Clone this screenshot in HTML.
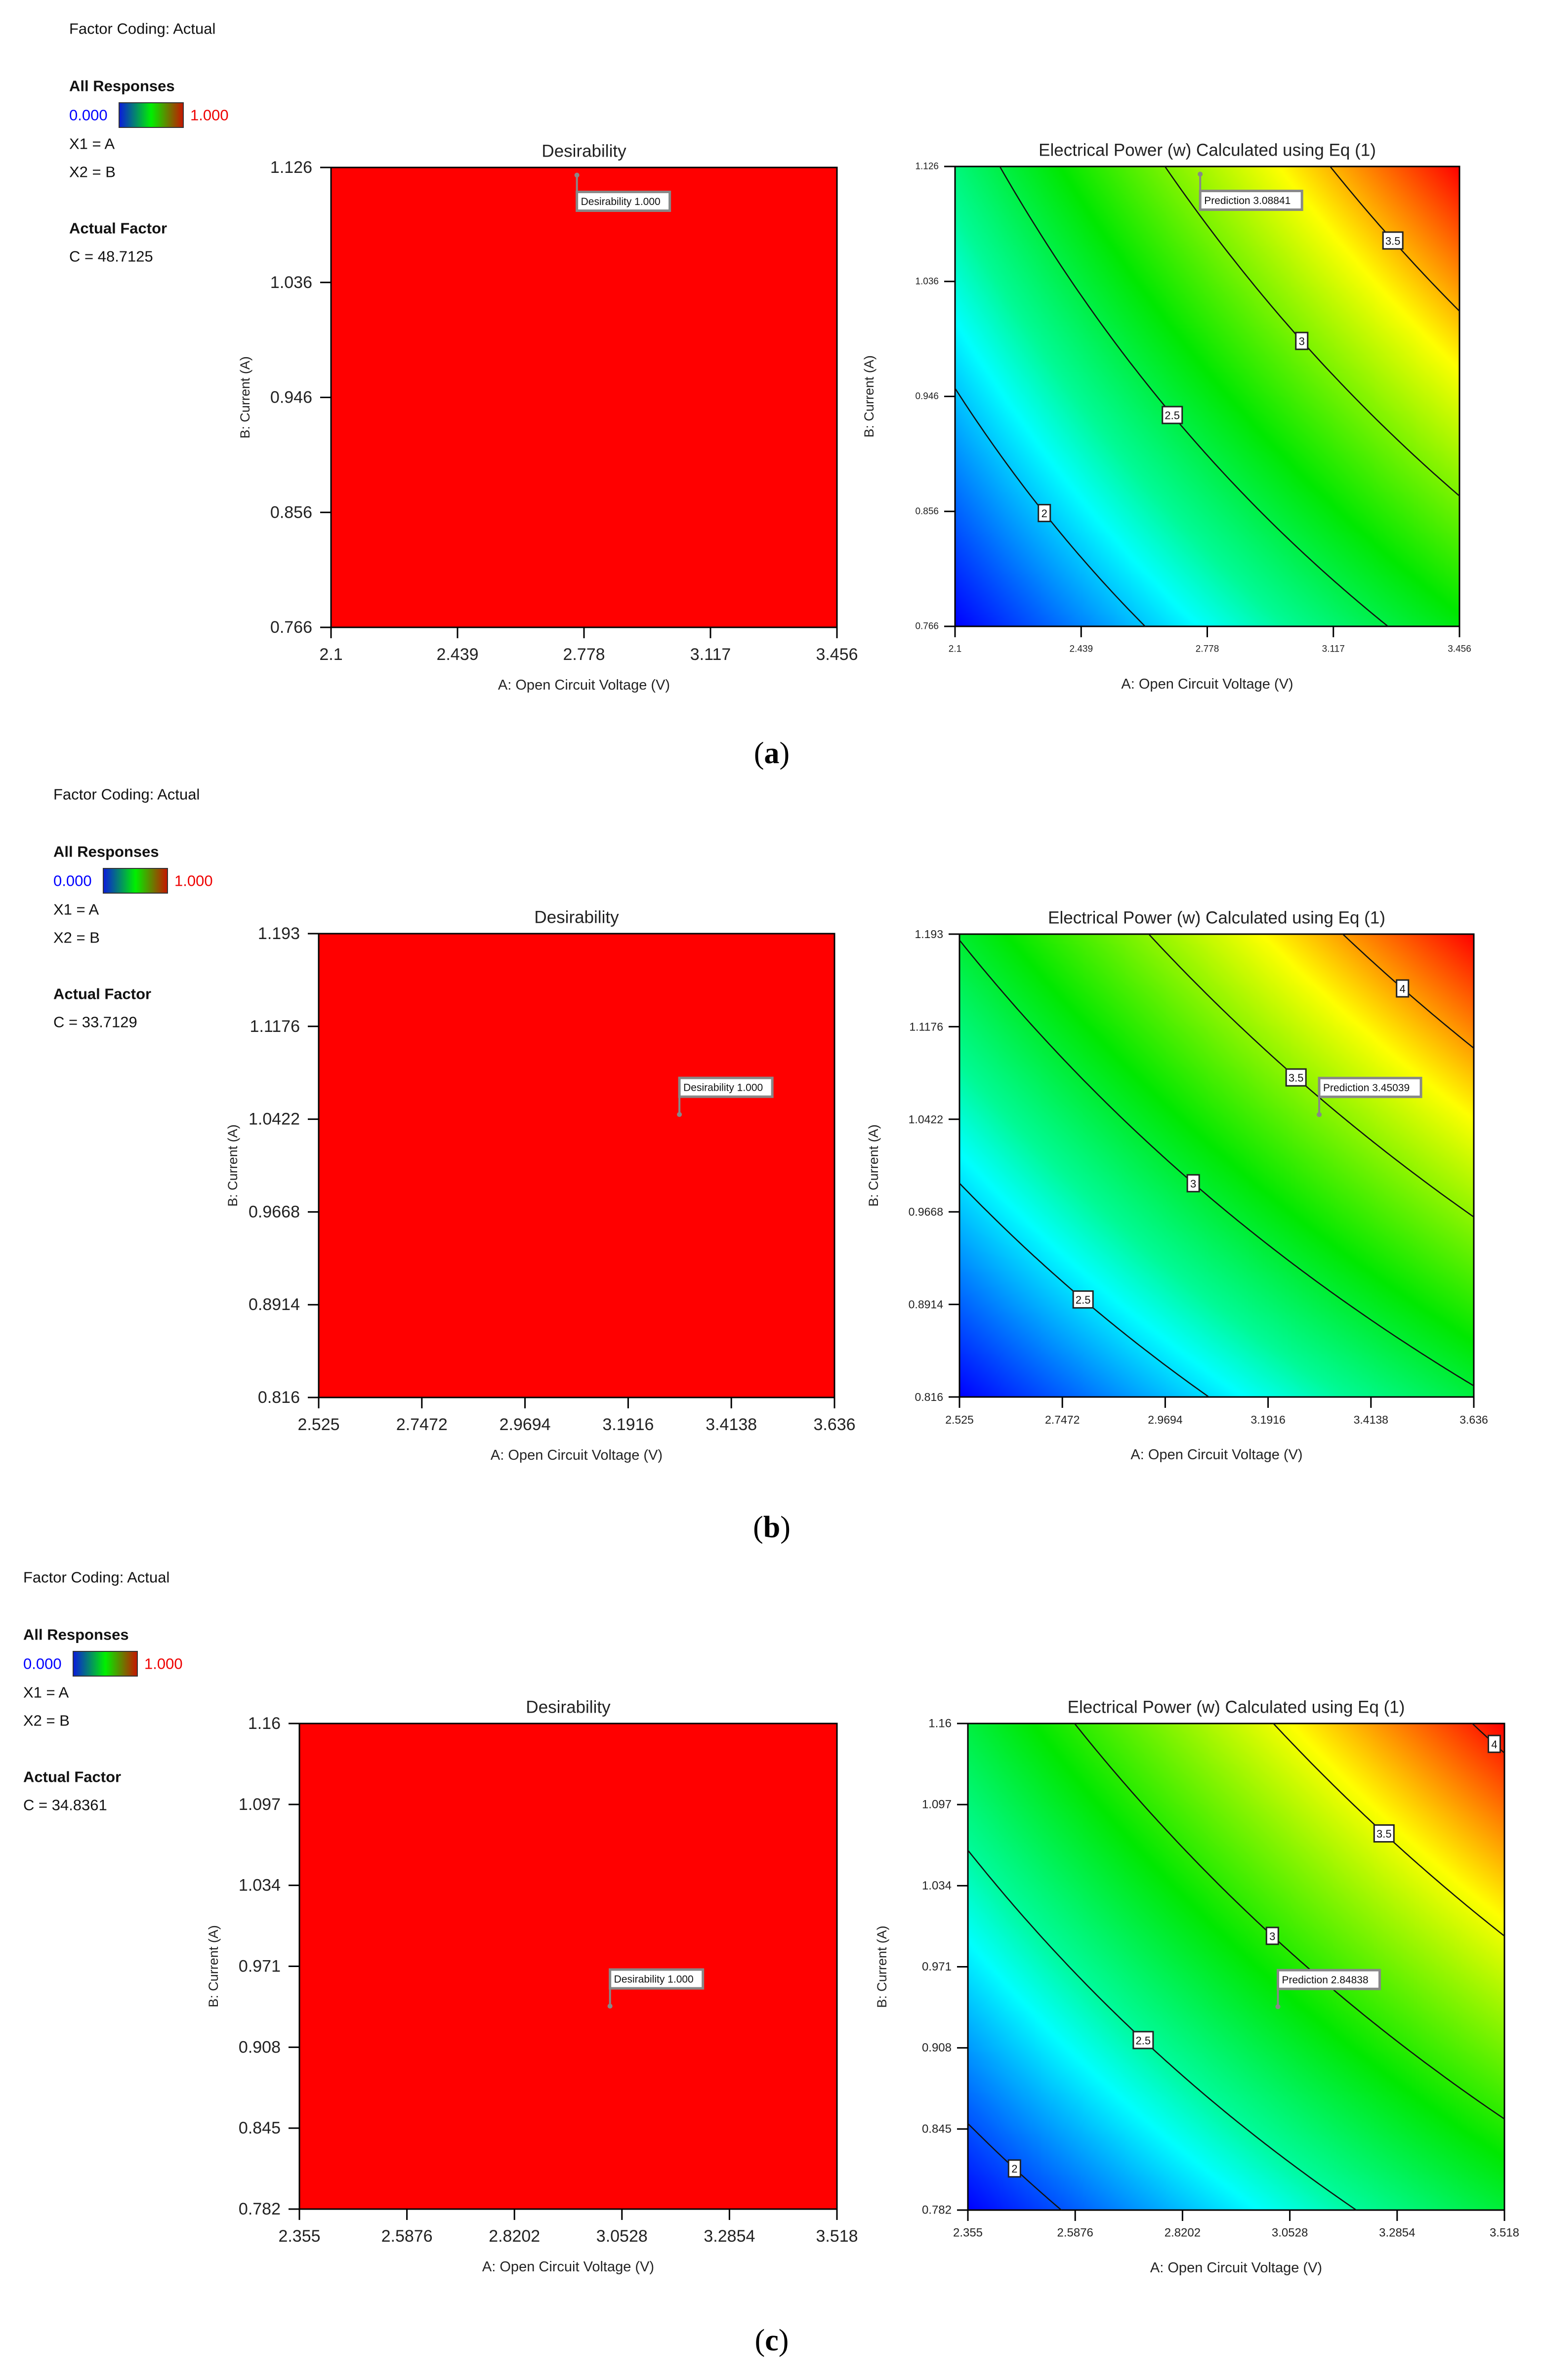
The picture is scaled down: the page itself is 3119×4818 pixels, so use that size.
<!DOCTYPE html>
<html><head><meta charset="utf-8">
<style>
html,body{margin:0;padding:0;background:#fff;}
body{width:3119px;height:4818px;position:relative;overflow:hidden;font-family:"Liberation Sans","DejaVu Sans",sans-serif;}
svg{position:absolute;left:0;top:0;}
</style></head>
<body>
<svg id="fig" width="3119" height="4818" viewBox="0 0 3119 4818" xmlns="http://www.w3.org/2000/svg"></svg>
<script>
// ---- data ----
const panelLetters = ['(a)', '(b)', '(c)'];
const factorC = ['48.7125', '33.7129', '34.8361'];
const xMin = [2.1, 2.525, 2.355];
const xMax = [3.456, 3.636, 3.518];
const yMin = [0.766, 0.816, 0.782];
const yMax = [1.126, 1.193, 1.16];
const xTicksA = ['2.1', '2.439', '2.778', '3.117', '3.456'];
const xTicksB = ['2.525', '2.7472', '2.9694', '3.1916', '3.4138', '3.636'];
const xTicksC = ['2.355', '2.5876', '2.8202', '3.0528', '3.2854', '3.518'];
const yTicksA = ['0.766', '0.856', '0.946', '1.036', '1.126'];
const yTicksB = ['0.816', '0.8914', '0.9668', '1.0422', '1.1176', '1.193'];
const yTicksC = ['0.782', '0.845', '0.908', '0.971', '1.034', '1.097', '1.16'];
const levelsA = [2, 2.5, 3, 3.5];
const levelsB = [2.5, 3, 3.5, 4];
const levelsC = [2, 2.5, 3, 3.5, 4];
const labelXA = [2.340, 2.684, 3.032, 3.277];
const labelXB = [2.792, 3.030, 3.252, 3.482];
const labelXC = [2.456, 2.735, 3.015, 3.257, 3.496];
const optA = [2.759, 3.302, 3.027];
const optB = [1.120, 1.046, 0.940];
const predValue = ['3.08841', '3.45039', '2.84838'];
const desirValue = ['1.000', '1.000', '1.000'];

// ---- layout (pixels) ----
const L = [
 {lx:140, ly:58, left:{x0:670,x1:1694,y0:339,y1:1270,tf:34}, right:{x0:1933,x1:2954,y0:337,y1:1268,tf:19}, letterY:1525, boxBelow:true},
 {lx:108, ly:1608, left:{x0:645,x1:1689,y0:1890,y1:2829,tf:34}, right:{x0:1942,x1:2983,y0:1891,y1:2828,tf:23}, letterY:3092, boxBelow:false},
 {lx:47, ly:3193, left:{x0:606,x1:1694,y0:3489,y1:4472,tf:34}, right:{x0:1959,x1:3045,y0:3489,y1:4474,tf:24}, letterY:4738, boxBelow:false}
];
const xTicksAll = [xTicksA, xTicksB, xTicksC];
const yTicksAll = [yTicksA, yTicksB, yTicksC];
const levelsAll = [levelsA, levelsB, levelsC];
const labelXAll = [labelXA, labelXB, labelXC];

const NS = 'http://www.w3.org/2000/svg';
const svg = document.getElementById('fig');
function mk(tag, attrs, parent, txt){
  const e = document.createElementNS(NS, tag);
  for (const k in attrs) e.setAttribute(k, attrs[k]);
  if (txt !== undefined) e.textContent = txt;
  (parent||svg).appendChild(e);
  return e;
}
function cmap(t){
  t = Math.max(0, Math.min(1, t));
  const st = [[0,[0,0,255]],[0.22,[0,255,255]],[0.3,[0,250,150]],[0.47,[0,232,0]],[0.76,[255,255,0]],[1,[255,0,0]]];
  for (let i=1;i<st.length;i++){
    if (t<=st[i][0]){
      const a=st[i-1], b=st[i], f=(t-a[0])/(b[0]-a[0]);
      return [0,1,2].map(k=>Math.round(a[1][k]+(b[1][k]-a[1][k])*f));
    }
  }
  return [255,0,0];
}
const defs = mk('defs', {});
const lg = mk('linearGradient', {id:'cb', x1:'0', x2:'1', y1:'0', y2:'0'}, defs);
mk('stop', {offset:'0', 'stop-color':'#0a1adc'}, lg);
mk('stop', {offset:'0.5', 'stop-color':'#00f000'}, lg);
mk('stop', {offset:'1', 'stop-color':'#c81400'}, lg);

function axes(g, p, i, small, title){
  const sx = v => p.x0 + (v - xMin[i])/(xMax[i]-xMin[i])*(p.x1-p.x0);
  const sy = v => p.y1 - (v - yMin[i])/(yMax[i]-yMin[i])*(p.y1-p.y0);
  const fam = '"Liberation Sans", sans-serif';
  xTicksAll[i].forEach(t => {
    const x = sx(parseFloat(t));
    const tk = mk('line', {x1:x, x2:x, y1:p.y1, y2:p.y1+22, stroke:'#000', 'stroke-width':3}, g);
    
    
    const tl = mk('text', {x:x, y:p.y1 + (small?46:55), 'font-size':p.tf, 'text-anchor':'middle', 'dominant-baseline':'central', 'font-family':fam, fill:'#222'}, g, t);
    
    
  });
  yTicksAll[i].forEach(t => {
    const y = sy(parseFloat(t));
    const tk = mk('line', {x1:p.x0-22, x2:p.x0, y1:y, y2:y, stroke:'#000', 'stroke-width':3}, g);
    
    
    const tl = mk('text', {x:p.x0-(small?33:38), y:y, 'font-size':p.tf, 'text-anchor':'end', 'dominant-baseline':'central', 'font-family':fam, fill:'#222'}, g, t);
    
    
  });
  const fr = mk('rect', {x:p.x0, y:p.y0, width:p.x1-p.x0, height:p.y1-p.y0, fill:'none', stroke:'#000', 'stroke-width':3}, g);
  
  
  const tt = mk('text', {x:(p.x0+p.x1)/2, y:p.y0-33, 'font-size':35, 'text-anchor':'middle', 'dominant-baseline':'central', 'font-family':fam, fill:'#222'}, g, title);
  
  
  const xt = mk('text', {x:(p.x0+p.x1)/2, y:p.y1+117, 'font-size':29, 'text-anchor':'middle', 'dominant-baseline':'central', 'font-family':fam, fill:'#222'}, g, 'A: Open Circuit Voltage (V)');
  
  
  const cy = (p.y0+p.y1)/2, cx = p.x0-174;
  const yt = mk('text', {x:cx, y:cy, 'font-size':27, 'text-anchor':'middle', 'dominant-baseline':'central', 'font-family':fam, fill:'#222', transform:`rotate(-90 ${cx} ${cy})`}, g, 'B: Current (A)');
  
  
  return {sx, sy};
}

function flag(g, px, py, below, w, txt, name){
  const h = 38;
  const bx = px, by = below ? py+34 : py-36-h;
  const st = mk('line', {x1:px, x2:px, y1:py, y2: below ? by : by+h, stroke:'#888', 'stroke-width':4}, g);
  
  
  const dot = mk('circle', {cx:px, cy:py, r:5, fill:'#888'}, g);
  
  
  const r = mk('rect', {x:bx, y:by, width:w, height:h, fill:'#fff', stroke:'#888', 'stroke-width':5}, g);
  
  
  const t = mk('text', {x:bx+8, y:by+h/2+1, 'font-size':21, 'dominant-baseline':'central', 'font-family':'"Liberation Sans", sans-serif', fill:'#111', 'xml:space':'preserve'}, g, txt);
  
  
}

for (let i=0;i<3;i++){
  const cfg = L[i];
  const g = mk('g', {});
  
  
  const lgG = mk('g', {}, g);
  
  
  const fam = '"Liberation Sans", sans-serif';
  const lx = cfg.lx, ly = cfg.ly;
  const items = [
    ['Factor Coding: Actual', 0, false, 'factor-coding-label'],
    ['All Responses', 116, true, 'all-responses-label'],
    ['X1 = A', 233, false, 'x1-label'],
    ['X2 = B', 290, false, 'x2-label'],
    ['Actual Factor', 404, true, 'actual-factor-label'],
    ['C = ' + factorC[i], 461, false, 'factor-c-value']
  ];
  items.forEach(it => {
    const t = mk('text', {x:lx, y:ly+it[1], 'font-size':31, 'font-weight':it[2]?'bold':'normal', 'dominant-baseline':'central', 'font-family':fam, fill:'#111'}, lgG, it[0]);
    
    
  });
  const t0 = mk('text', {x:lx, y:ly+175, 'font-size':31, 'dominant-baseline':'central', 'font-family':fam, fill:'#0000ff'}, lgG, '0.000');
  
  
  const cbr = mk('rect', {x:lx+101, y:ly+150, width:130, height:50, fill:'url(#cb)', stroke:'#333', 'stroke-width':2}, lgG);
  
  
  const t1 = mk('text', {x:lx+245, y:ly+175, 'font-size':31, 'dominant-baseline':'central', 'font-family':fam, fill:'#ee0000'}, lgG, '1.000');
  
  

  const pl = cfg.left;
  const gl = mk('g', {}, g);
  
  
  const bg = mk('rect', {x:pl.x0, y:pl.y0, width:pl.x1-pl.x0, height:pl.y1-pl.y0, fill:'#ff0000'}, gl);
  
  
  const al = axes(gl, pl, i, false, 'Desirability');
  flag(gl, al.sx(optA[i]), al.sy(optB[i]), cfg.boxBelow, 188, 'Desirability  ' + desirValue[i], 'desirability-flag');

  const pr = cfg.right;
  const gr = mk('g', {}, g);
  
  
  const W = pr.x1-pr.x0, H = pr.y1-pr.y0;
  const cw = Math.round(W/4), ch = Math.round(H/4);
  const cv = document.createElement('canvas');
  cv.width = cw; cv.height = ch;
  const ctx = cv.getContext('2d');
  const img = ctx.createImageData(cw, ch);
  const pmin = xMin[i]*yMin[i], pmax = xMax[i]*yMax[i];
  for (let r=0;r<ch;r++) for (let c=0;c<cw;c++){
    const A = xMin[i] + (c+0.5)/cw*(xMax[i]-xMin[i]);
    const B = yMax[i] - (r+0.5)/ch*(yMax[i]-yMin[i]);
    const col = cmap((A*B - pmin)/(pmax-pmin));
    const k = (r*cw+c)*4;
    img.data[k]=col[0]; img.data[k+1]=col[1]; img.data[k+2]=col[2]; img.data[k+3]=255;
  }
  ctx.putImageData(img, 0, 0);
  const fo = mk('foreignObject', {x:pr.x0, y:pr.y0, width:W, height:H}, gr);
  
  
  cv.style.width = W+'px'; cv.style.height = H+'px'; cv.style.display='block';
  fo.appendChild(cv);
  const ar = axes(gr, pr, i, true, 'Electrical Power (w) Calculated using Eq (1)');
  const clip = mk('clipPath', {id:'clip'+i}, defs);
  mk('rect', {x:pr.x0, y:pr.y0, width:W, height:H}, clip);
  levelsAll[i].forEach((lev, j) => {
    let d = '';
    const n = 200;
    for (let s=0;s<=n;s++){
      const A = xMin[i] + s/n*(xMax[i]-xMin[i]);
      const B = lev / A;
      d += (s?'L':'M') + ar.sx(A).toFixed(1) + ' ' + ar.sy(B).toFixed(1);
    }
    const pth = mk('path', {d:d, fill:'none', stroke:'#111', 'stroke-width':2.5, 'clip-path':`url(#clip${i})`}, gr);
    
    
    const la = labelXAll[i][j];
    const lxp = ar.sx(la), lyp = ar.sy(lev/la);
    const s = String(lev);
    const bw = s.length > 1 ? 40 : 24;
    const lb = mk('rect', {x:lxp-bw/2, y:lyp-17, width:bw, height:34, fill:'#fff', stroke:'#222', 'stroke-width':3}, gr);
    
    
    const lt = mk('text', {x:lxp, y:lyp+1, 'font-size':22, 'text-anchor':'middle', 'dominant-baseline':'central', 'font-family':'"Liberation Sans", sans-serif', fill:'#111'}, gr, s);
    
    
  });
  flag(gr, ar.sx(optA[i]), ar.sy(optB[i]), cfg.boxBelow, 206, 'Prediction  ' + predValue[i], 'prediction-flag');

  const pt = mk('text', {x:1562, y:cfg.letterY, 'font-size':62, 'text-anchor':'middle', 'dominant-baseline':'central', 'font-family':'"Liberation Serif", serif', fill:'#000'}, g);
  
  
  mk('tspan', {}, pt, '(');
  mk('tspan', {'font-weight':'bold'}, pt, panelLetters[i].slice(1,2));
  mk('tspan', {}, pt, ')');
}
</script>
</body></html>
